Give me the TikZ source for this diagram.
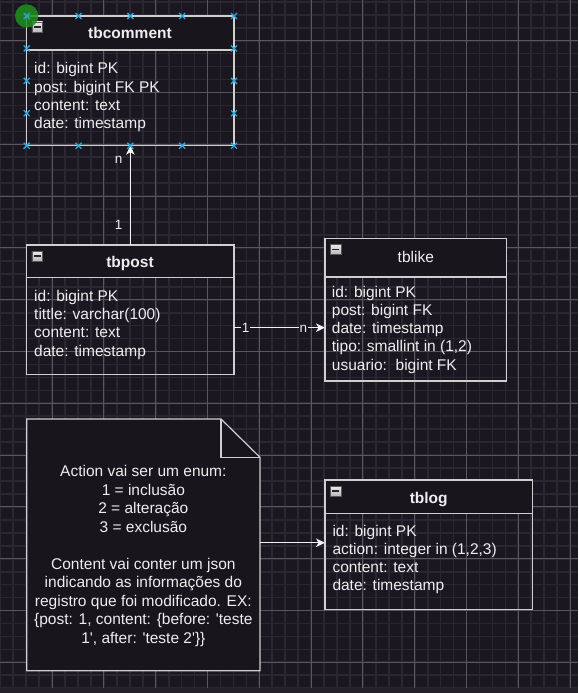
\documentclass[tikz,border=0pt]{standalone}
\usepackage{fontspec}
\setmainfont{Liberation Sans}
\usetikzlibrary{arrows.meta,calc}
\definecolor{bg}{HTML}{1A1720}
\definecolor{gridminor}{HTML}{2A2730}
\definecolor{gridmajor}{HTML}{58575C}
\definecolor{hdr}{HTML}{18151D}
\definecolor{edgecol}{HTML}{CFCFCF}
\definecolor{txt}{HTML}{EEEEEE}
\definecolor{selblue}{HTML}{2AA8E0}
\definecolor{selgreen}{HTML}{1F901F}
\definecolor{bottomband}{HTML}{24212B}
\tikzset{
  tblnode/.style={inner sep=0pt, outer sep=0pt, anchor=north west},
  tblline/.style={draw=edgecol, line width=1.2pt},
  tbltitle/.style={anchor=base, inner sep=0pt, text=txt, font=\fontsize{15.5}{18}\selectfont\bfseries},
  tbltitlereg/.style={anchor=base, inner sep=0pt, text=txt, font=\fontsize{15.5}{18}\selectfont},
  field/.style={anchor=base west, inner sep=0pt, text=txt, font=\fontsize{15.5}{18}\selectfont},
  noteline/.style={anchor=base, inner sep=0pt, text=txt, font=\fontsize{15.5}{18}\selectfont},
  elabel/.style={anchor=base, inner sep=1pt, text=txt, font=\fontsize{13.5}{16}\selectfont},
  conn/.style={draw=white!95!black, line width=1.2pt, -{Stealth[length=9pt,width=8.5pt,inset=2.5pt]}},
  minusicon/.style={draw=gray!70!black, line width=0.6pt, top color=white!92!black, bottom color=gray!55!white,
    minimum width=10.7pt, minimum height=10pt, inner sep=0pt,
    path picture={\draw[black!85, line width=1.5pt] ([xshift=-3.3pt]path picture bounding box.center) -- ([xshift=3.3pt]path picture bounding box.center);}},
  selx/.style={draw=selblue, line width=1.3pt},
}
\newcommand\erdtab[6]{%
  \node[tblnode, minimum width=#4pt, minimum height=#5pt] (#1) at (#2,#3) {};
  \fill[hdr] (#1.north west) rectangle ([yshift=-#6pt]#1.north east);
  \draw[tblline] (#1.north west) rectangle (#1.south east);
  \draw[tblline] ([yshift=-#6pt]#1.north west) -- ([yshift=-#6pt]#1.north east);
  \node[minusicon] (#1-icon) at ([xshift=10.6pt,yshift=-11pt]#1.north west) {};
}
\begin{document}
\begin{tikzpicture}[x=1pt,y=-1pt]
\useasboundingbox (0,0) rectangle (578,693);
% background and grid
\fill[bg] (0,0) rectangle (578,693);
\foreach \k in {0,...,44} \draw[gridminor, line width=1.7pt] ({0.3+12.95*\k},0) -- ++(0,693);
\foreach \k in {0,...,53} \draw[gridminor, line width=1.7pt] (0,{1.85+12.95*\k}) -- ++(578,0);
\foreach \k in {0,...,10} \draw[gridmajor, line width=0.9pt] ({52.1+51.8*\k},0) -- ++(0,693);
\foreach \k in {0,...,12} \draw[gridmajor, line width=0.9pt] (0,{40.7+51.8*\k}) -- ++(578,0);
\fill[bottomband] (0,688) rectangle (578,693);

% tables
\erdtab{tbcomment}{26.7}{16}{207.3}{129.7}{34}
\node[tbltitle] (tbcomment-title) at (130,38.5) {tbcomment};
\foreach \t [count=\i] in {id: bigint PK, post: bigint FK PK, content: text, date: timestamp}
  \node[field] (tbcomment-f\i) at (34,{74+18.2*(\i-1)}) {\t};

\erdtab{tbpost}{26.7}{245}{207.3}{129.3}{32.7}
\node[tbltitle] (tbpost-title) at (130,267) {tbpost};
\foreach \t [count=\i] in {id: bigint PK, {tittle: varchar(100)}, content: text, date: timestamp}
  \node[field] (tbpost-f\i) at (34,{301.5+18.2*(\i-1)}) {\t};

\erdtab{tblike}{325}{238.3}{181.7}{142.7}{38.7}
\node[tbltitlereg] (tblike-title) at (415.8,262) {tblike};
\foreach \t [count=\i] in {id: bigint PK, post: bigint FK, date: timestamp, {tipo: smallint in (1,2)}, {usuario:\ \ bigint FK}}
  \node[field] (tblike-f\i) at (331.7,{297+18.3*(\i-1)}) {\t};

\erdtab{tblog}{325}{480}{207.3}{129.3}{33.3}
\node[tbltitle] (tblog-title) at (428.7,503.8) {tblog};
\foreach \t [count=\i] in {id: bigint PK, {action: integer in (1,2,3)}, content: text, date: timestamp}
  \node[field] (tblog-f\i) at (332.3,{536+18.2*(\i-1)}) {\t};

% note
\node[tblnode, minimum width=233.3pt, minimum height=251.7pt] (note) at (26.7,419) {};
\filldraw[fill=hdr, tblline] (note.north west) -- ([xshift=-39pt]note.north east)
  -- ([yshift=-38.3pt]note.north east) -- (note.south east) -- (note.south west) -- cycle;
\draw[tblline] ([xshift=-39pt]note.north east) -- ([xshift=-39pt,yshift=-38.3pt]note.north east)
  -- ([yshift=-38.3pt]note.north east);
\foreach \t [count=\i] in {{Action vai ser um enum:}, {1 = inclusão}, {2 = alteração}, {3 = exclusão}, {},
  {Content vai conter um json}, {indicando as informações do}, {registro que foi modificado. EX:},
  {\{post: 1, content: \{before: \textquotesingle teste}, {1\textquotesingle, after: \textquotesingle teste 2\textquotesingle\}\}}}
  \node[noteline] (note-l\i) at ([yshift={-(57.7+18.52*(\i-1))*1pt}]note.north) {\t};

% connectors
\draw[conn] (tbpost.north) -- (tbcomment.south);
\node[elabel, inner sep=0pt] (lbl-c-n) at ([xshift=-11.7pt,yshift=-17.6pt]tbcomment.south) {n};
\node[elabel, inner sep=0pt] (lbl-c-1) at ([xshift=-11.7pt,yshift=15.7pt]tbpost.north) {1};

\draw[conn] ([yshift=-18pt]tbpost.east) -- ([yshift=-18pt]tblike.west);
\node[elabel, fill=bg] (lbl-l-1) at ([xshift=11.7pt,yshift=-22.6pt]tbpost.east) {1};
\node[elabel, fill=bg] (lbl-l-n) at ([xshift=-21.7pt,yshift=-22.6pt]tblike.west) {n};

\coordinate (noteout) at ([yshift=2.1pt]note.east);
\draw[conn] (noteout) -- (tblog.west |- noteout);

% selection handles on tbcomment
\fill[selgreen, opacity=0.85] (tbcomment.north west) circle (11.7);
\foreach \f in {0,0.25,0.5,0.75,1} {
  \draw[selx] ($(tbcomment.north west)!\f!(tbcomment.north east)$) ++(-3,-3) -- ++(6,6) ++(-6,0) -- ++(6,-6);
  \draw[selx] ($(tbcomment.south west)!\f!(tbcomment.south east)$) ++(-3,-3) -- ++(6,6) ++(-6,0) -- ++(6,-6);
}
\foreach \f in {0.25,0.5,0.75} {
  \draw[selx] ($(tbcomment.north west)!\f!(tbcomment.south west)$) ++(-3,-3) -- ++(6,6) ++(-6,0) -- ++(6,-6);
  \draw[selx] ($(tbcomment.north east)!\f!(tbcomment.south east)$) ++(-3,-3) -- ++(6,6) ++(-6,0) -- ++(6,-6);
}
\end{tikzpicture}
\end{document}
